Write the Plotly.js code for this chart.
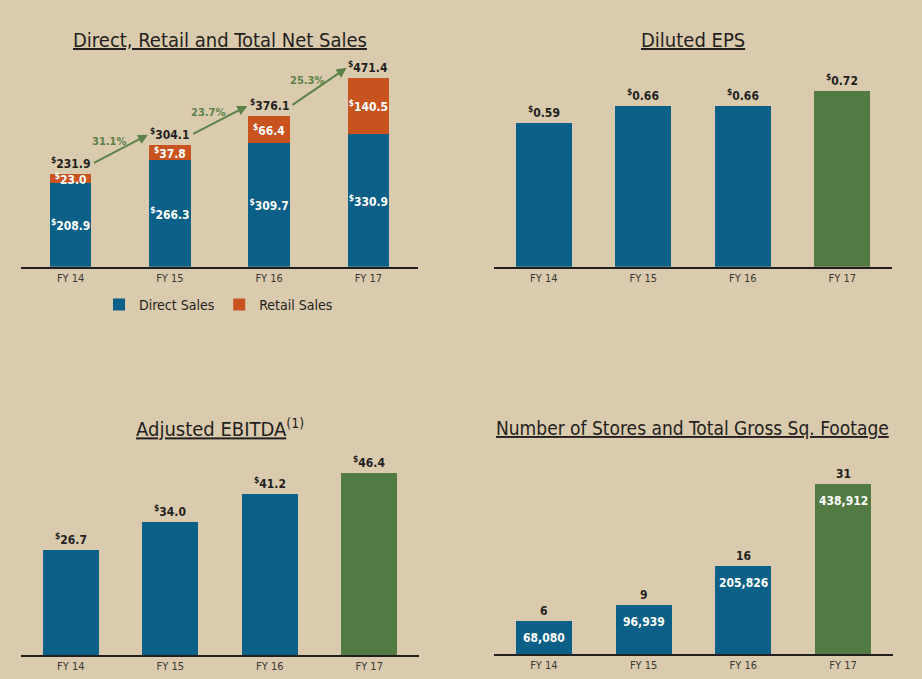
<!DOCTYPE html>
<html>
<head>
<meta charset="utf-8">
<script src="https://cdn.plot.ly/plotly-3.0.1.min.js"></script>
<style>html,body{margin:0;padding:0;background:#dbcbae;}#chart{width:922px;height:679px;}</style>
</head>
<body>
<div id="chart"></div>
<script>
// ---- data ----
const years = ['FY 14', 'FY 15', 'FY 16', 'FY 17'];
const directSales = [208.9, 266.3, 309.7, 330.9];
const retailSales = [23.0, 37.8, 66.4, 140.5];
const totalSales = [231.9, 304.1, 376.1, 471.4];
const salesGrowth = ['31.1%', '23.7%', '25.3%'];
const dilutedEps = [0.59, 0.66, 0.66, 0.72];
const adjEbitda = [26.7, 34.0, 41.2, 46.4];
const storeCount = [6, 9, 16, 31];
const grossSqFt = [68080, 96939, 205826, 438912];

// ---- style ----
const FONT = '"DejaVu Sans Condensed", "Liberation Sans Narrow", "Arial Narrow", sans-serif';
const BLUE = '#0b6087';
const ORANGE = '#c9531f';
const GREEN = '#527a43';
const ARROW = '#5b8248';
const DARK = '#231f20';
const highlight = years.map((_, i) => i === years.length - 1 ? GREEN : BLUE);
const usd1 = v => '<sup>$</sup>' + v.toFixed(1);
const usd2 = v => '<sup>$</sup>' + v.toFixed(2);

const insideFont = {family: FONT, size: 12, color: '#ffffff'};

const traces = [
  {type: 'bar', name: 'Direct Sales', x: years, y: directSales, xaxis: 'x', yaxis: 'y',
   marker: {color: BLUE}, width: 0.42,
   text: directSales.map(v => '<b>' + usd1(v) + '</b>'), textposition: 'inside', textangle: 0,
   insidetextanchor: 'middle', constraintext: 'none', textfont: insideFont, hoverinfo: 'none'},
  {type: 'bar', name: 'Retail Sales', x: years, y: retailSales, xaxis: 'x', yaxis: 'y',
   marker: {color: ORANGE}, width: 0.42,
   text: retailSales.map(v => '<b>' + usd1(v) + '</b>'), textposition: 'inside', textangle: 0,
   insidetextanchor: 'middle', constraintext: 'none', textfont: insideFont, hoverinfo: 'none'},
  {type: 'bar', x: years, y: dilutedEps, xaxis: 'x2', yaxis: 'y2', showlegend: false,
   marker: {color: highlight}, width: 0.56, hoverinfo: 'none'},
  {type: 'bar', x: years, y: adjEbitda, xaxis: 'x3', yaxis: 'y3', showlegend: false,
   marker: {color: highlight}, width: 0.56, hoverinfo: 'none'},
  {type: 'bar', x: years, y: storeCount, xaxis: 'x4', yaxis: 'y4', showlegend: false,
   marker: {color: highlight}, width: 0.56, hoverinfo: 'none'}
];

const topFont = {family: FONT, size: 12, color: DARK};
const annotations = [];
function topLabels(vals, fmt, xr, yr) {
  vals.forEach((v, i) => annotations.push({
    x: years[i], y: v, xref: xr, yref: yr, yanchor: 'bottom', yshift: 1,
    text: '<b>' + fmt(v) + '</b>', showarrow: false, font: topFont
  }));
}
topLabels(totalSales, usd1, 'x', 'y');
topLabels(dilutedEps, usd2, 'x2', 'y2');
topLabels(adjEbitda, usd1, 'x3', 'y3');
topLabels(storeCount, v => String(v), 'x4', 'y4');

// square footage inside the store bars, a little below each bar top
storeCount.forEach((v, i) => annotations.push({
  x: years[i], y: v, xref: 'x4', yref: 'y4', yanchor: 'top', yshift: -8,
  text: '<b>' + grossSqFt[i].toLocaleString('en-US') + '</b>', showarrow: false, font: insideFont
}));

// growth arrows between total labels
const lift = 26;
for (let i = 0; i < salesGrowth.length; i++) {
  const y0 = totalSales[i] + lift, y1 = totalSales[i + 1] + lift;
  const x0 = i + 0.22, x1 = i + 0.78;
  annotations.push({x: x1, y: y1, ax: x0, ay: y0, xref: 'x', yref: 'y', axref: 'x', ayref: 'y',
    text: '', showarrow: true, arrowhead: 2, arrowsize: 1, arrowwidth: 2, arrowcolor: ARROW});
  const t = 0.29;
  annotations.push({x: x0 + t * (x1 - x0), y: y0 + t * (y1 - y0), xref: 'x', yref: 'y',
    yshift: 14, text: '<b>' + salesGrowth[i] + '</b>', showarrow: false,
    font: {family: FONT, size: 11, color: ARROW}});
}

// panel titles
const titleFont = {family: FONT, size: 20, color: DARK};
[
  {x: 0.2386, y: 0.941, text: '<u>Direct, Retail and Total Net Sales</u>', s: 20},
  {x: 0.7516, y: 0.941, text: '<u>Diluted EPS</u>', s: 20},
  {x: 0.2386, y: 0.3697, text: '<u>Adjusted EBITDA</u><sup>(1)</sup>', s: 20},
  {x: 0.7516, y: 0.3697, text: '<u>Number of Stores and Total Gross Sq. Footage</u>', s: 19}
].forEach(t => annotations.push({x: t.x, y: t.y, xref: 'paper', yref: 'paper',
  xanchor: 'center', yanchor: 'middle', text: t.text, showarrow: false,
  font: Object.assign({}, titleFont, {size: t.s})}));

function xax(d, anchor) {
  return {domain: d, anchor: anchor, type: 'category', showline: true, linecolor: DARK, linewidth: 2,
    ticks: '', showgrid: false, zeroline: false, fixedrange: true,
    tickfont: {family: FONT, size: 11, color: '#3b3836'}};
}
function yax(d, r, anchor) {
  return {domain: d, range: r, anchor: anchor, visible: false, showgrid: false, zeroline: false, fixedrange: true};
}

const layout = {
  width: 922, height: 679, autosize: false,
  margin: {l: 0, r: 0, t: 0, b: 0, pad: 0},
  paper_bgcolor: '#dbcbae', plot_bgcolor: 'rgba(0,0,0,0)',
  barmode: 'stack',
  font: {family: FONT, color: DARK},
  xaxis: xax([0.0228, 0.4534], 'y'),
  yaxis: yax([0.6072, 0.9116], [0, 517], 'x'),
  xaxis2: xax([0.5358, 0.9675], 'y2'),
  yaxis2: yax([0.6072, 0.9116], [0, 0.849], 'x2'),
  xaxis3: xax([0.0228, 0.4544], 'y3'),
  yaxis3: yax([0.0353, 0.3446], [0, 53.6], 'x3'),
  xaxis4: xax([0.5358, 0.9685], 'y4'),
  yaxis4: yax([0.0364, 0.3446], [0, 38], 'x4'),
  showlegend: true,
  legend: {orientation: 'h', x: 0.237, xanchor: 'center', y: 0.551, yanchor: 'middle',
    traceorder: 'normal', bgcolor: 'rgba(0,0,0,0)', font: {family: FONT, size: 14, color: DARK},
    itemwidth: 30},
  annotations: annotations
};

Plotly.newPlot('chart', traces, layout, {displayModeBar: false, staticPlot: true});
</script>
</body>
</html>
